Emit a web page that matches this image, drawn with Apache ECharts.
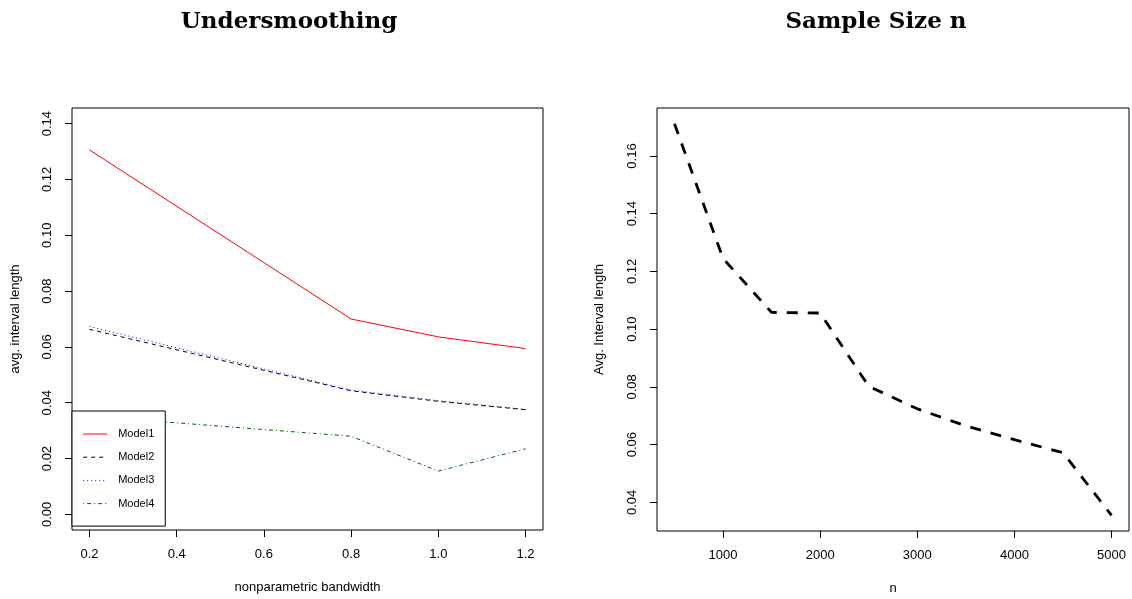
<!DOCTYPE html>
<html>
<head>
<meta charset="utf-8">
<script src="https://cdn.jsdelivr.net/npm/echarts@6/dist/echarts.min.js"></script>
<style>
html, body { margin: 0; padding: 0; background: #fff; }
#chart { width: 1132px; height: 599px; }
</style>
</head>
<body>
<div id="chart"></div>
<script>
// left panel: undersmoothing
const bandwidth = [0.2, 0.8, 1.0, 1.2]
const model1 = [0.1306, 0.0700, 0.0636, 0.0594]
const model2 = [0.0663, 0.0443, 0.0405, 0.0375]
const model3 = [0.0673, 0.0445, 0.0407, 0.0376]
const model4 = [0.0352, 0.0280, 0.0155, 0.0235]
const bandwidthTicks = [0.2, 0.4, 0.6, 0.8, 1.0, 1.2]
const leftYTicks = [0, 0.02, 0.04, 0.06, 0.08, 0.10, 0.12, 0.14]

// right panel: sample size
const sampleN = [500, 1000, 1500, 2000, 2500, 3000, 3500, 4000, 4500, 5000]
const avgLength = [0.1712, 0.1245, 0.1058, 0.1056, 0.0802, 0.0724, 0.0665, 0.0617, 0.0572, 0.0355]
const nTicks = [1000, 2000, 3000, 4000, 5000]
const rightYTicks = [0.04, 0.06, 0.08, 0.10, 0.12, 0.14, 0.16]

const sans = 'Liberation Sans, Arial, sans-serif'
const pairs = (xs, ys) => xs.map((x, i) => [x, ys[i]])

function xAxisFor(idx, min, max, ticks, fmt, name) {
    return {
        type: 'value', gridIndex: idx, min: min, max: max,
        name: name, nameLocation: 'middle', nameGap: 51, nameMoveOverlap: false,
        nameTextStyle: { color: '#000', fontSize: 13, fontFamily: sans },
        axisLine: { show: false, onZero: false },
        splitLine: { show: false },
        axisTick: { show: true, length: 7, lineStyle: { color: '#000' }, customValues: ticks },
        axisLabel: { customValues: ticks, margin: 18, color: '#000', fontSize: 13, fontFamily: sans, formatter: fmt }
    }
}

function yAxisFor(idx, min, max, ticks, name, gap) {
    return {
        type: 'value', gridIndex: idx, min: min, max: max,
        name: name, nameLocation: 'middle', nameRotate: 90, nameGap: gap, nameMoveOverlap: false,
        nameTextStyle: { color: '#000', fontSize: 13, fontFamily: sans },
        axisLine: { show: false, onZero: false },
        splitLine: { show: false },
        axisTick: { show: true, length: 7, lineStyle: { color: '#000' }, customValues: ticks },
        axisLabel: { customValues: ticks, rotate: 90, margin: 18, color: '#000', fontSize: 13, fontFamily: sans,
            formatter: v => v.toFixed(2) }
    }
}

function thinLine(name, color, dash, ys) {
    return {
        name: name, type: 'line', xAxisIndex: 0, yAxisIndex: 0,
        symbol: 'none', showSymbol: false,
        lineStyle: { color: color, width: 1, type: dash },
        itemStyle: { color: color },
        data: pairs(bandwidth, ys)
    }
}

const chart = echarts.init(document.getElementById('chart'))
chart.setOption({
    animation: false,
    backgroundColor: '#fff',
    grid: [
        { left: 72, top: 108, width: 471, height: 422, show: true, borderColor: '#000', borderWidth: 1, outerBoundsMode: 'none' },
        { left: 657, top: 108, width: 472, height: 423, show: true, borderColor: '#000', borderWidth: 1, outerBoundsMode: 'none' }
    ],
    graphic: [
        { type: 'text', x: 289, y: 22, style: { text: 'Undersmoothing', textAlign: 'center', textVerticalAlign: 'middle',
            font: 'bold 23px "DejaVu Serif", serif', fill: '#000' } },
        { type: 'text', x: 876, y: 22, style: { text: 'Sample Size n', textAlign: 'center', textVerticalAlign: 'middle',
            font: 'bold 23px "DejaVu Serif", serif', fill: '#000' } }
    ],
    legend: {
        left: 72, top: 411, orient: 'vertical',
        selectedMode: false,
        backgroundColor: '#fff', borderColor: '#000', borderWidth: 1, borderRadius: 0,
        padding: [17.5, 11, 17, 10.7],
        itemWidth: 24, itemHeight: 12, itemGap: 12.2,
        itemStyle: { opacity: 0 },
        lineStyle: { width: 1 },
        textStyle: { color: '#000', fontSize: 11, fontFamily: sans, padding: [0, 0, 0, 6] },
        data: ['Model1', 'Model2', 'Model3', 'Model4']
    },
    xAxis: [
        xAxisFor(0, 0.16, 1.24, bandwidthTicks, v => v.toFixed(1), 'nonparametric bandwidth'),
        xAxisFor(1, 320, 5180, nTicks, v => String(v), 'n')
    ],
    yAxis: [
        yAxisFor(0, -0.0056, 0.1456, leftYTicks, 'avg. interval length', 50),
        yAxisFor(1, 0.03007, 0.17663, rightYTicks, 'Avg. Interval length', 51)
    ],
    series: [
        thinLine('Model1', '#ff0000', 'solid', model1),
        thinLine('Model2', '#000000', [4, 4], model2),
        thinLine('Model3', '#0000ff', [1, 3], model3),
        thinLine('Model4', '#006400', [1, 3, 4, 3], model4),
        {
            name: 'avg', type: 'line', xAxisIndex: 1, yAxisIndex: 1,
            symbol: 'none', showSymbol: false,
            lineStyle: { color: '#000', width: 2.8, type: [11, 10] },
            itemStyle: { color: '#000' },
            data: pairs(sampleN, avgLength)
        }
    ]
})
</script>
</body>
</html>
